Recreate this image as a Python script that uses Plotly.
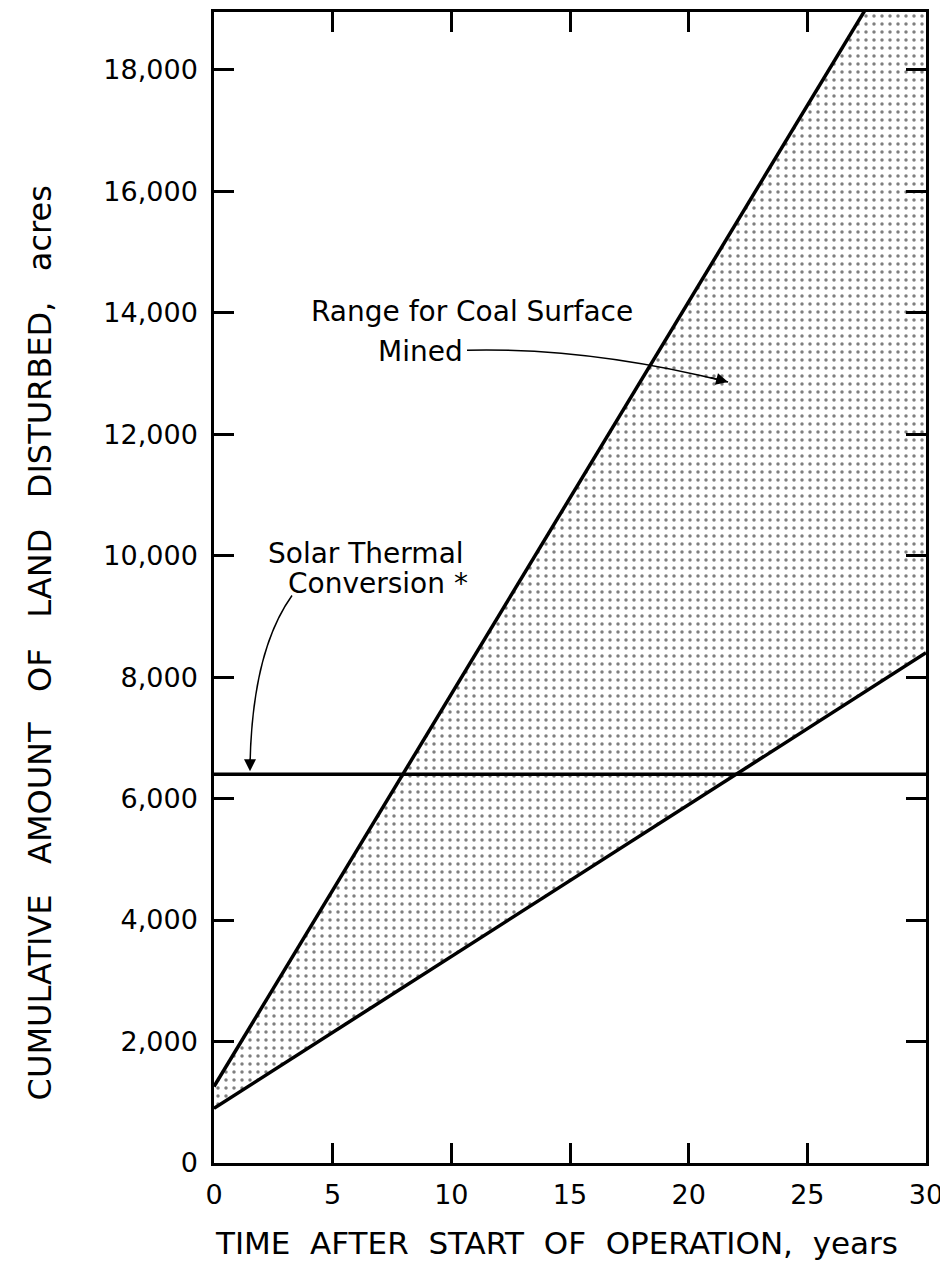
import plotly.graph_objects as go

# Data
years = [0, 30]
coal_upper = [1260, 20640]   # upper bound of coal surface mined range (acres)
coal_lower = [900, 8400]     # lower bound of coal surface mined range (acres)
solar = [6400, 6400]         # solar thermal conversion (acres)

x_ticks = [0, 5, 10, 15, 20, 25, 30]
y_ticks = [0, 2000, 4000, 6000, 8000, 10000, 12000, 14000, 16000, 18000]

FONT = "DejaVu Sans"
TXT = dict(family=FONT, size=28, color="black")

fig = go.Figure()
fig.add_trace(go.Scatter(x=years, y=coal_lower, mode="lines",
                         line=dict(color="black", width=3.5), showlegend=False))
fig.add_trace(go.Scatter(x=years, y=coal_upper, mode="lines",
                         line=dict(color="black", width=3.5), showlegend=False,
                         fill="tonexty", fillcolor="rgba(0,0,0,0)",
                         fillpattern=dict(shape=".", size=8, solidity=0.15,
                                          fgcolor="black", bgcolor="white")))
fig.add_trace(go.Scatter(x=years, y=solar, mode="lines",
                         line=dict(color="black", width=3.5), showlegend=False))

# Text labels
fig.add_annotation(x=10.87, y=14023, text="Range for Coal Surface", showarrow=False,
                   font=TXT, xanchor="center", yanchor="middle")
fig.add_annotation(x=8.68, y=13366, text="Mined", showarrow=False,
                   font=TXT, xanchor="center", yanchor="middle")
fig.add_annotation(x=6.41, y=10033, text="Solar Thermal", showarrow=False,
                   font=TXT, xanchor="center", yanchor="middle")
fig.add_annotation(x=6.91, y=9540, text="Conversion *", showarrow=False,
                   font=TXT, xanchor="center", yanchor="middle")

# Curved leader lines
fig.add_shape(type="path", xref="x", yref="y",
              path="M 10.66,13383 Q 15.84,13432 21.66,12857",
              line=dict(color="black", width=1.5))
fig.add_shape(type="path", xref="x", yref="y",
              path="M 3.287,9343 Q 1.601,8424 1.517,6535",
              line=dict(color="black", width=1.5))
# Arrow heads
fig.add_annotation(x=21.66, y=12857, ax=-19, ay=-5, text="", showarrow=True,
                   arrowhead=2, arrowsize=1.6, arrowwidth=1.5, arrowcolor="black")
fig.add_annotation(x=1.517, y=6450, ax=0, ay=-14, text="", showarrow=True,
                   arrowhead=2, arrowsize=1.6, arrowwidth=1.5, arrowcolor="black")

# Axis titles (placed as annotations to match the original position)
fig.add_annotation(xref="paper", yref="paper", x=0.4817, y=-0.0693,
                   text="TIME  AFTER  START  OF  OPERATION,  years", showarrow=False,
                   font=dict(family=FONT, size=31, color="black"),
                   xanchor="center", yanchor="middle")
fig.add_annotation(xref="paper", yref="paper", x=-0.2444, y=0.4523, textangle=-90,
                   text="CUMULATIVE   AMOUNT   OF   LAND   DISTURBED,   acres",
                   showarrow=False, font=dict(family=FONT, size=32, color="black"),
                   xanchor="center", yanchor="middle")

axis_common = dict(showline=True, linecolor="black", linewidth=2.5, mirror="ticks",
                   ticks="inside", ticklen=20, tickwidth=2.5, tickcolor="black",
                   showgrid=False, zeroline=False, ticklabeloverflow="allow",
                   tickfont=dict(family=FONT, size=27, color="black"))

fig.update_xaxes(range=[0, 30], tickvals=x_ticks, ticklabelstandoff=6, **axis_common)
fig.update_yaxes(range=[0, 18950], tickvals=y_ticks, tickformat=",d",
                 ticklabelstandoff=8, **axis_common)

fig.update_layout(width=940, height=1262, plot_bgcolor="white", paper_bgcolor="white",
                  margin=dict(l=206, r=22, t=1, b=107), showlegend=False)

fig.write_html("out.html")
